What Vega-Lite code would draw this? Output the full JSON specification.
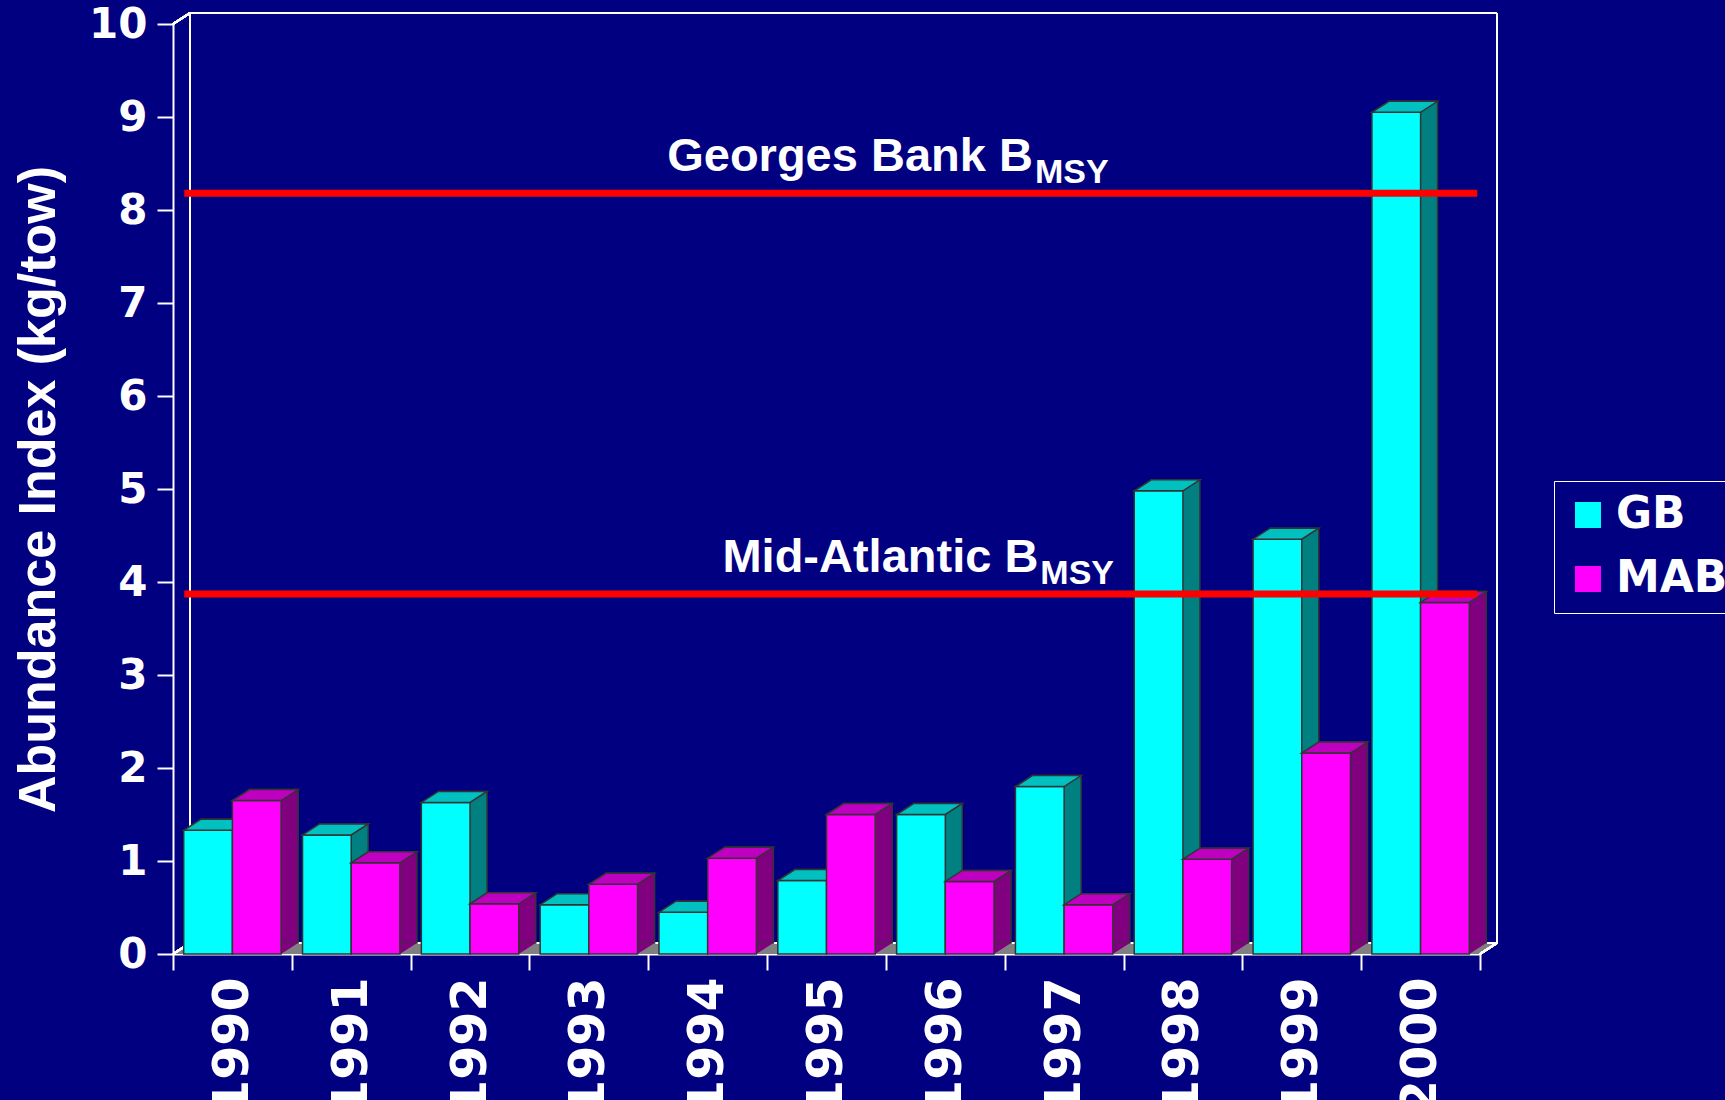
{
  "$schema": "https://vega.github.io/schema/vega-lite/v6.json",
  "autosize": {"type": "none"},
  "padding": {"left": 173, "top": 24, "right": 245, "bottom": 146},
  "width": 1307,
  "height": 930,
  "background": "#000080",
  "config": {"view": {"stroke": null}},
  "datasets": {
    "bars": [
      {"year": "1990", "series": "GB", "value": 1.33}, {"year": "1990", "series": "MAB", "value": 1.65},
      {"year": "1991", "series": "GB", "value": 1.28}, {"year": "1991", "series": "MAB", "value": 0.98},
      {"year": "1992", "series": "GB", "value": 1.63}, {"year": "1992", "series": "MAB", "value": 0.54},
      {"year": "1993", "series": "GB", "value": 0.53}, {"year": "1993", "series": "MAB", "value": 0.75},
      {"year": "1994", "series": "GB", "value": 0.45}, {"year": "1994", "series": "MAB", "value": 1.03},
      {"year": "1995", "series": "GB", "value": 0.79}, {"year": "1995", "series": "MAB", "value": 1.50},
      {"year": "1996", "series": "GB", "value": 1.50}, {"year": "1996", "series": "MAB", "value": 0.78},
      {"year": "1997", "series": "GB", "value": 1.80}, {"year": "1997", "series": "MAB", "value": 0.53},
      {"year": "1998", "series": "GB", "value": 4.98}, {"year": "1998", "series": "MAB", "value": 1.02},
      {"year": "1999", "series": "GB", "value": 4.46}, {"year": "1999", "series": "MAB", "value": 2.16},
      {"year": "2000", "series": "GB", "value": 9.05}, {"year": "2000", "series": "MAB", "value": 3.78}
    ],
    "lines": [
      {"name": "Georges Bank", "label": "Georges Bank B", "sub": "MSY", "value": 8.18},
      {"name": "Mid-Atlantic", "label": "Mid-Atlantic B", "sub": "MSY", "value": 3.87}
    ]
  },
  "data": {"name": "bars"},
  "layer": [
    {
      "mark": {"type": "point", "shape": "M-653.5,0 L653.5,0 L670.5,-11 L-636.5,-11 Z", "size": 4, "filled": true, "fill": "#808080", "strokeWidth": 0, "opacity": 1},
      "encoding": {
        "x": {"datum": "1995", "type": "nominal", "scale": {"type": "band", "domain": ["1990","1991","1992","1993","1994","1995","1996","1997","1998","1999","2000"], "paddingInner": 0, "paddingOuter": 0},
          "axis": {"title": null, "labelAngle": -90, "labelFont": "DejaVu Sans", "labelFontWeight": "bold", "labelFontSize": 49, "labelColor": "white", "labelPadding": 7, "domainColor": "white", "domainWidth": 2, "tickColor": "white", "tickWidth": 2, "tickSize": 16, "tickBand": "extent", "grid": false}},
        "y": {"datum": 0, "type": "quantitative", "scale": {"domain": [0, 10], "nice": false},
          "axis": {"title": "Abundance Index (kg/tow)", "values": [0,1,2,3,4,5,6,7,8,9,10], "format": "d", "labelFont": "DejaVu Sans", "labelFontWeight": "bold", "labelFontSize": 42, "labelColor": "white", "labelPadding": 10, "domainColor": "white", "domainWidth": 2, "tickColor": "white", "tickWidth": 2, "tickSize": 16, "grid": false,
            "titleFont": "Liberation Sans", "titleFontWeight": "bold", "titleFontSize": 52, "titleColor": "white", "titleX": -108, "titleAnchor": "middle"}}
      }
    },
    {
      "mark": {"type": "rule", "color": "white", "strokeWidth": 2, "yOffset": -11, "y2Offset": -11, "xOffset": 17, "x2Offset": 17},
      "encoding": {"x": {"datum": "1990", "bandPosition": 0}, "x2": {"datum": "2000", "bandPosition": 1}, "y": {"datum": 0}, "y2": {"datum": 0}}
    },
    {
      "mark": {"type": "rule", "color": "white", "strokeWidth": 2, "yOffset": -11, "y2Offset": -11, "xOffset": 17, "x2Offset": 17},
      "encoding": {"x": {"datum": "1990", "bandPosition": 0}, "x2": {"datum": "2000", "bandPosition": 1}, "y": {"datum": 10}, "y2": {"datum": 10}}
    },
    {
      "mark": {"type": "rule", "color": "white", "strokeWidth": 2, "yOffset": -11, "y2Offset": -11, "xOffset": 17},
      "encoding": {"x": {"datum": "1990", "bandPosition": 0}, "y": {"datum": 0}, "y2": {"datum": 10}}
    },
    {
      "mark": {"type": "rule", "color": "white", "strokeWidth": 2, "yOffset": -11, "y2Offset": -11, "xOffset": 17},
      "encoding": {"x": {"datum": "2000", "bandPosition": 1}, "y": {"datum": 0}, "y2": {"datum": 10}}
    },
    {
      "mark": {"type": "rule", "color": "white", "strokeWidth": 2, "y2Offset": -11, "x2Offset": 17},
      "encoding": {"x": {"datum": "1990", "bandPosition": 0}, "x2": {"datum": "1990", "bandPosition": 0}, "y": {"datum": 0}, "y2": {"datum": 0}}
    },
    {
      "mark": {"type": "rule", "color": "white", "strokeWidth": 2, "y2Offset": -11, "x2Offset": 17},
      "encoding": {"x": {"datum": "1990", "bandPosition": 0}, "x2": {"datum": "1990", "bandPosition": 0}, "y": {"datum": 10}, "y2": {"datum": 10}}
    },
    {
      "mark": {"type": "rule", "color": "white", "strokeWidth": 2, "y2Offset": -11, "x2Offset": 17},
      "encoding": {"x": {"datum": "2000", "bandPosition": 1}, "x2": {"datum": "2000", "bandPosition": 1}, "y": {"datum": 0}, "y2": {"datum": 0}}
    },
    {
      "transform": [{"filter": "datum.series === 'GB'"}],
      "mark": {"type": "bar", "width": {"band": 0.41}, "xOffset": -7.35, "yOffset": -11, "y2Offset": -11, "fill": "#008080", "stroke": "#333333", "strokeWidth": 1.5},
      "encoding": {"x": {"field": "year", "type": "nominal"}, "y": {"field": "value", "type": "quantitative"}}
    },
    {
      "transform": [{"filter": "datum.series === 'GB'"}],
      "mark": {"type": "bar", "width": {"band": 0.41}, "xOffset": -24.35, "stroke": "#333333", "strokeWidth": 1.5},
      "encoding": {"x": {"field": "year", "type": "nominal"}, "y": {"field": "value", "type": "quantitative"},
        "color": {"field": "series", "type": "nominal", "scale": {"domain": ["GB", "MAB"], "range": ["#00FFFF", "#FF00FF"]},
          "legend": {"title": null, "orient": "none", "legendX": 1381, "legendY": 457, "symbolType": "square", "symbolSize": 676, "symbolStrokeWidth": 0, "symbolOpacity": 1,
            "labelFont": "DejaVu Sans", "labelFontWeight": "bold", "labelFontSize": 44, "labelColor": "white", "labelOffset": 6, "rowPadding": 20, "padding": 12, "strokeColor": "white"}}}
    },
    {
      "transform": [{"filter": "datum.series === 'GB'"}],
      "mark": {"type": "point", "shape": "M-48.7,0 L0,0 L17,-11 L-31.7,-11 Z", "size": 4, "filled": true, "fill": "#00C0C0", "stroke": "#333333", "strokeWidth": 1.5, "opacity": 1},
      "encoding": {"x": {"field": "year", "type": "nominal"}, "y": {"field": "value", "type": "quantitative"}}
    },
    {
      "transform": [{"filter": "datum.series === 'MAB'"}],
      "mark": {"type": "bar", "width": {"band": 0.41}, "xOffset": 41.35, "yOffset": -11, "y2Offset": -11, "fill": "#800080", "stroke": "#333333", "strokeWidth": 1.5},
      "encoding": {"x": {"field": "year", "type": "nominal"}, "y": {"field": "value", "type": "quantitative"}}
    },
    {
      "transform": [{"filter": "datum.series === 'MAB'"}],
      "mark": {"type": "point", "shape": "M48.7,0 L65.7,-11 L48.7,-11 Z", "size": 4, "filled": true, "fill": "#800080", "strokeWidth": 0, "opacity": 1},
      "encoding": {"x": {"field": "year", "type": "nominal"}, "y": {"datum": 0}}
    },
    {
      "transform": [{"filter": "datum.series === 'MAB'"}],
      "mark": {"type": "bar", "width": {"band": 0.41}, "xOffset": 24.35, "stroke": "#333333", "strokeWidth": 1.5},
      "encoding": {"x": {"field": "year", "type": "nominal"}, "y": {"field": "value", "type": "quantitative"},
        "color": {"field": "series", "type": "nominal"}}
    },
    {
      "transform": [{"filter": "datum.series === 'MAB'"}],
      "mark": {"type": "point", "shape": "M0,0 L48.7,0 L65.7,-11 L17,-11 Z", "size": 4, "filled": true, "fill": "#C000C0", "stroke": "#333333", "strokeWidth": 1.5, "opacity": 1},
      "encoding": {"x": {"field": "year", "type": "nominal"}, "y": {"field": "value", "type": "quantitative"}}
    },
    {
      "data": {"name": "lines"},
      "mark": {"type": "rule", "color": "#FF0000", "strokeWidth": 7},
      "encoding": {"x": {"datum": "1990", "bandPosition": 0.095}, "x2": {"datum": "2000", "bandPosition": 0.977}, "y": {"field": "value", "type": "quantitative"}}
    },
    {
      "data": {"name": "lines"},
      "transform": [{"filter": "datum.name === 'Georges Bank'"}],
      "layer": [
        {
          "mark": {"type": "text", "align": "right", "baseline": "alphabetic", "dy": -22, "font": "Liberation Sans", "fontWeight": "bold", "fontSize": 47, "color": "white"},
          "encoding": {"x": {"datum": "1997", "bandPosition": 0.237}, "y": {"field": "value", "type": "quantitative"}, "text": {"field": "label"}}
        },
        {
          "mark": {"type": "text", "align": "left", "baseline": "alphabetic", "dx": 2, "dy": -10, "font": "Liberation Sans", "fontWeight": "bold", "fontSize": 34, "color": "white"},
          "encoding": {"x": {"datum": "1997", "bandPosition": 0.237}, "y": {"field": "value", "type": "quantitative"}, "text": {"field": "sub"}}
        }
      ]
    },
    {
      "data": {"name": "lines"},
      "transform": [{"filter": "datum.name === 'Mid-Atlantic'"}],
      "layer": [
        {
          "mark": {"type": "text", "align": "right", "baseline": "alphabetic", "dy": -22, "font": "Liberation Sans", "fontWeight": "bold", "fontSize": 47, "color": "white"},
          "encoding": {"x": {"datum": "1997", "bandPosition": 0.283}, "y": {"field": "value", "type": "quantitative"}, "text": {"field": "label"}}
        },
        {
          "mark": {"type": "text", "align": "left", "baseline": "alphabetic", "dx": 2, "dy": -10, "font": "Liberation Sans", "fontWeight": "bold", "fontSize": 34, "color": "white"},
          "encoding": {"x": {"datum": "1997", "bandPosition": 0.283}, "y": {"field": "value", "type": "quantitative"}, "text": {"field": "sub"}}
        }
      ]
    }
  ]
}
